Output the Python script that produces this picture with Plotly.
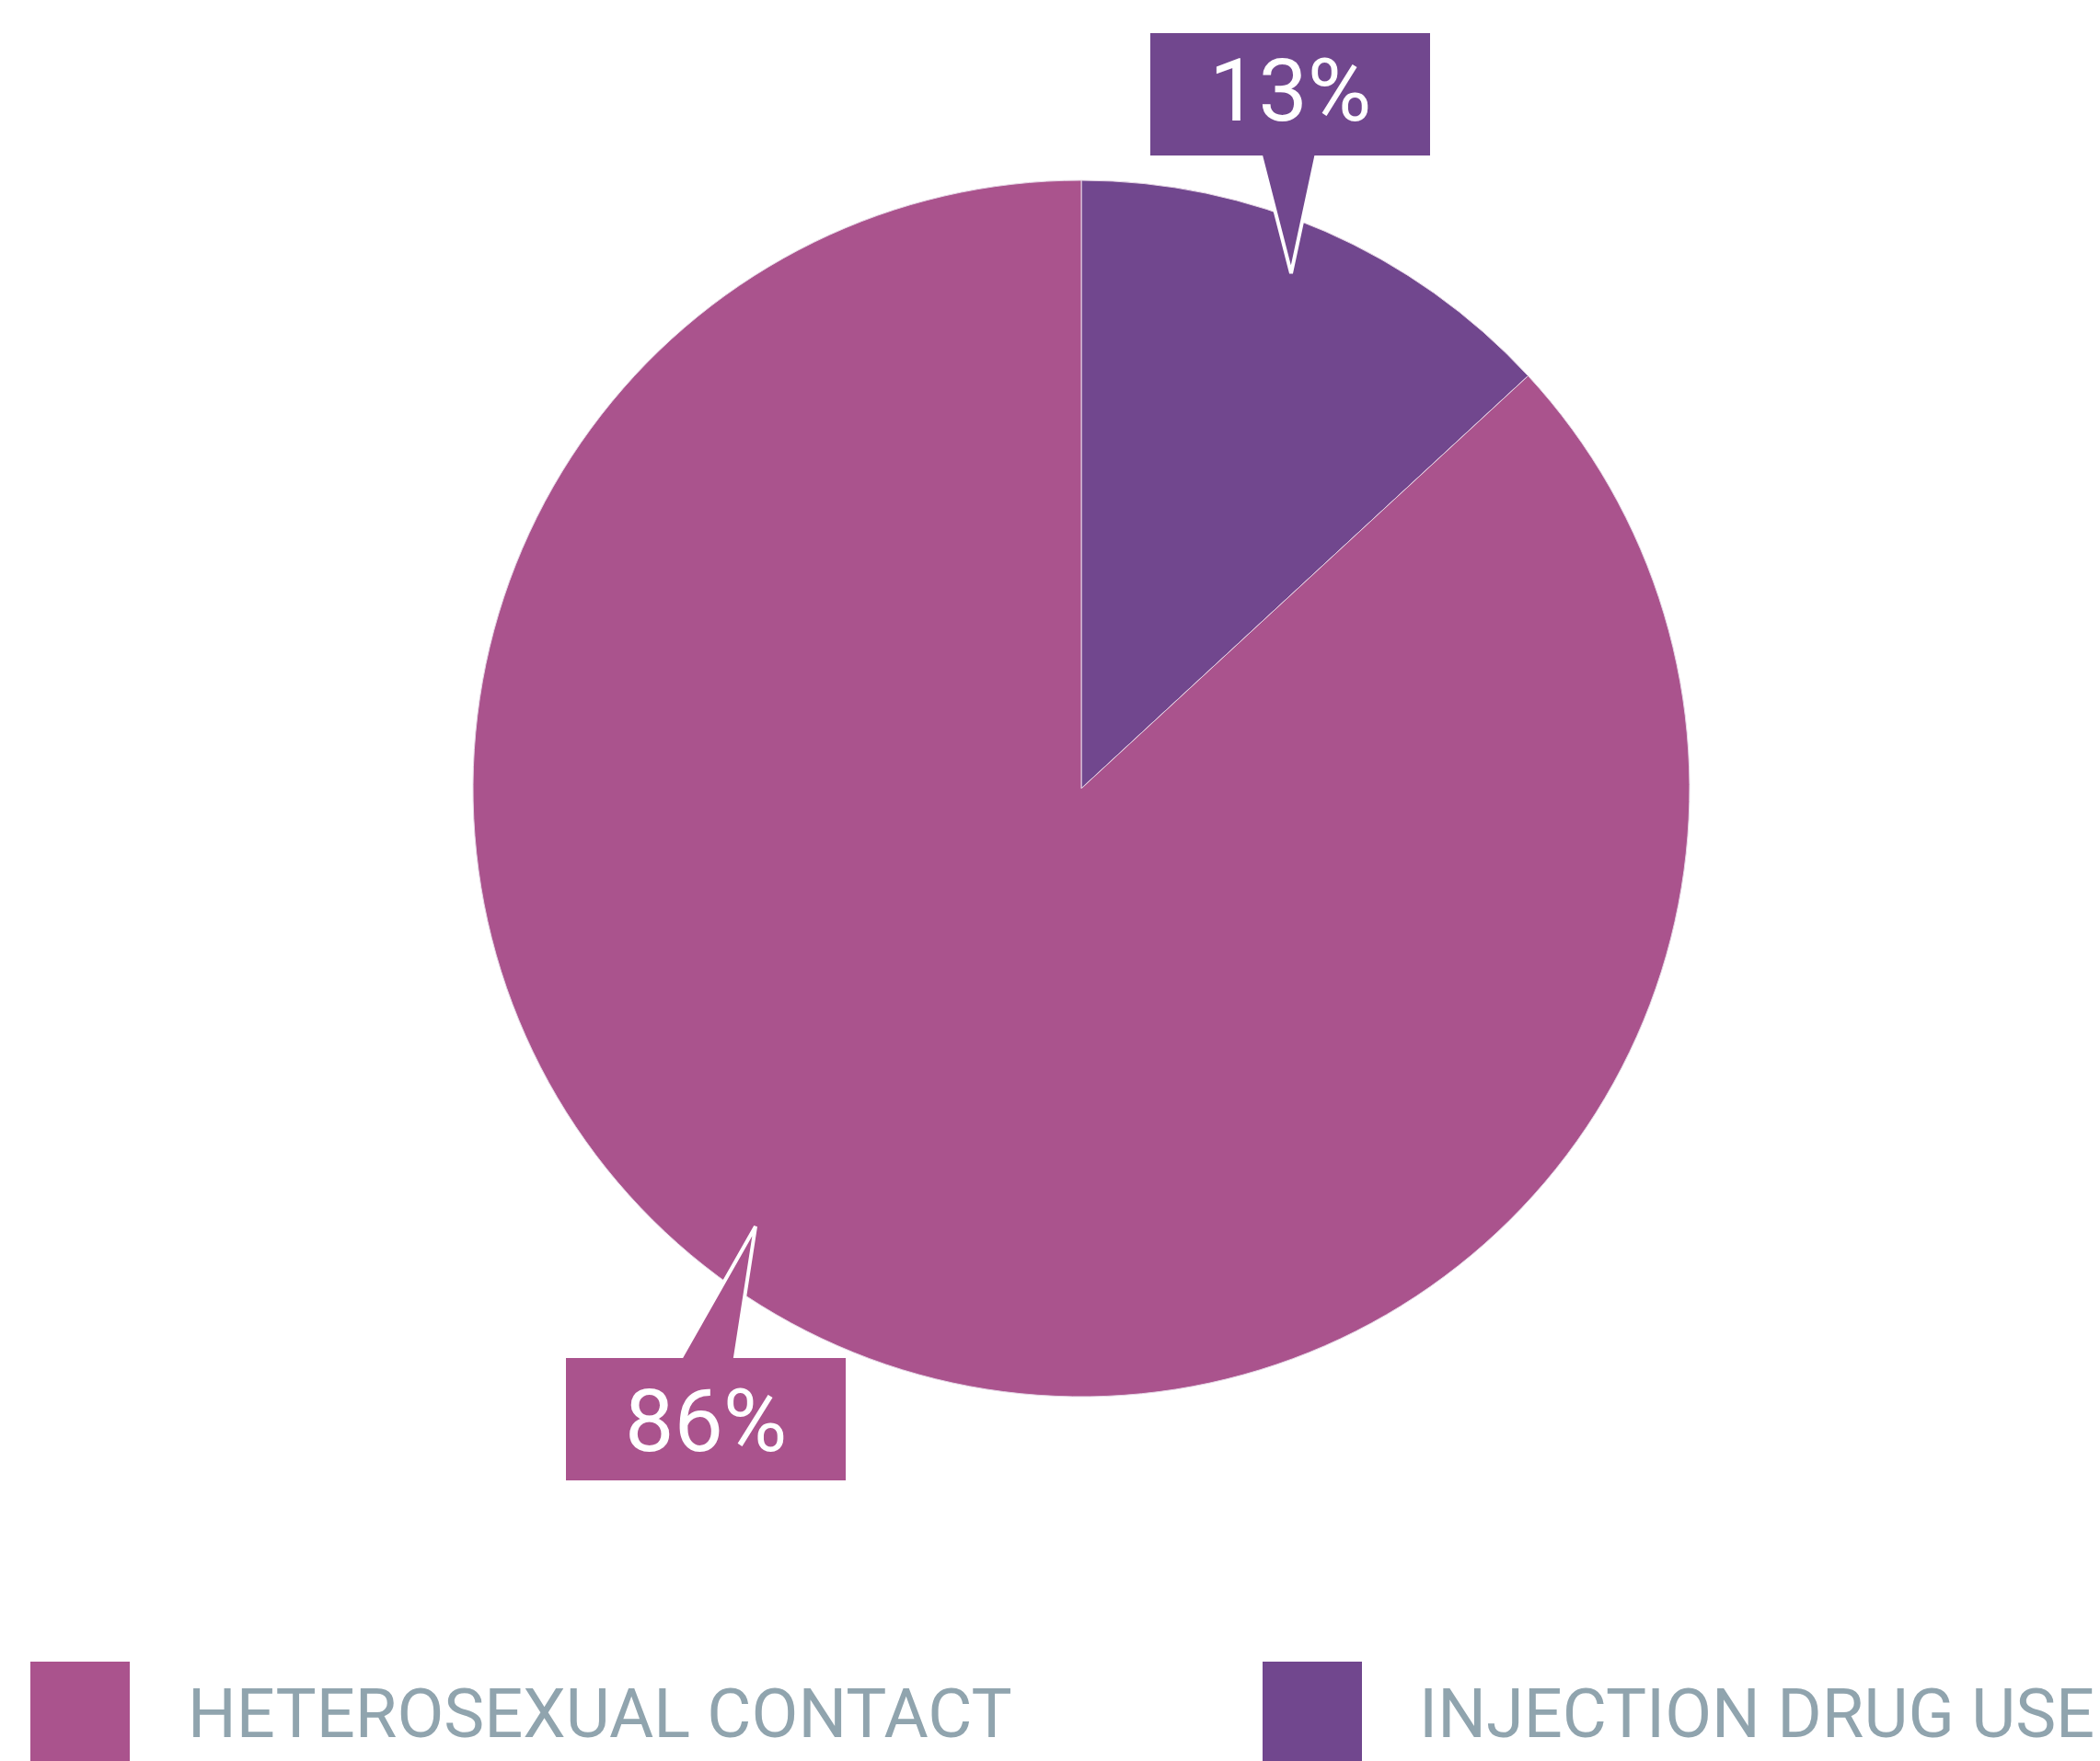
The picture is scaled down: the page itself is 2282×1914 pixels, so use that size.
import plotly.graph_objects as go

# data (legend order)
categories = ["HETEROSEXUAL CONTACT", "INJECTION DRUG USE"]
shares = [86, 13]
colors = ["#AA538D", "#71478E"]

W, H = 2282, 1914
PAD = 8  # default body margin of the html page


def px(x):
    return (x - PAD) / W


def py(y):
    return 1 - (y - PAD) / H


fig = go.Figure()

# pie starts at 12 o'clock and runs clockwise: injection drug use first
fig.add_trace(go.Pie(
    labels=categories[::-1],
    values=shares[::-1],
    marker=dict(colors=colors[::-1], line=dict(color="#E6D6E6", width=1)),
    sort=False,
    direction="clockwise",
    rotation=0,
    textinfo="none",
    hoverinfo="label+percent",
    showlegend=False,
    domain=dict(x=[px(514), px(1836)], y=[py(1518), py(196)]),
))

shapes = []
annotations = []

# callouts: (box x0, y0, x1, y1), pointer base left/right, tip, color, text, text nudge
callouts = [
    ((1250, 36, 1554, 169), (1367, 1433), (1403, 297), colors[1], f"{shares[1]}%", -4),
    ((615, 1476, 919, 1609), (733, 797), (821, 1333), colors[0], f"{shares[0]}%", 2),
]
for (bx0, by0, bx1, by1), (bl, br), (tx, ty), col, txt, dy in callouts:
    # base of the pointer sits slightly inside the box so the box hides its top edge
    if ty > by1:
        base = by1 - 12
    else:
        base = by0 + 12
    shapes.append(dict(
        type="path", xref="paper", yref="paper",
        path=f"M {px(bl)} {py(base)} L {px(tx)} {py(ty)} L {px(br)} {py(base)} Z",
        fillcolor=col, line=dict(color="white", width=4), layer="above",
    ))
    shapes.append(dict(
        type="rect", xref="paper", yref="paper",
        x0=px(bx0), x1=px(bx1), y0=py(by1), y1=py(by0),
        fillcolor=col, line=dict(width=0), layer="above",
    ))
    annotations.append(dict(
        x=px((bx0 + bx1) / 2), y=py((by0 + by1) / 2 + dy), xref="paper", yref="paper",
        text=txt, showarrow=False, xanchor="center", yanchor="middle",
        font=dict(family="Roboto", size=95, color="white"),
    ))

# legend drawn by hand: big squares and caps
legend_x = [(33, 202), (1372, 1540)]
for (sx, tx), col, name in zip(legend_x, colors, categories):
    shapes.append(dict(
        type="rect", xref="paper", yref="paper",
        x0=px(sx), x1=px(sx + 108), y0=py(1914), y1=py(1806),
        fillcolor=col, line=dict(width=0),
    ))
    annotations.append(dict(
        x=px(tx), y=py(1862), xref="paper", yref="paper",
        text=name, showarrow=False, xanchor="left", yanchor="middle",
        font=dict(family="Roboto", size=74, color="#90A4AE"),
    ))

fig.update_layout(
    width=W, height=H,
    margin=dict(l=0, r=0, t=0, b=0),
    paper_bgcolor="white",
    plot_bgcolor="white",
    shapes=shapes,
    annotations=annotations,
    showlegend=False,
)

fig.write_html("out.html")
